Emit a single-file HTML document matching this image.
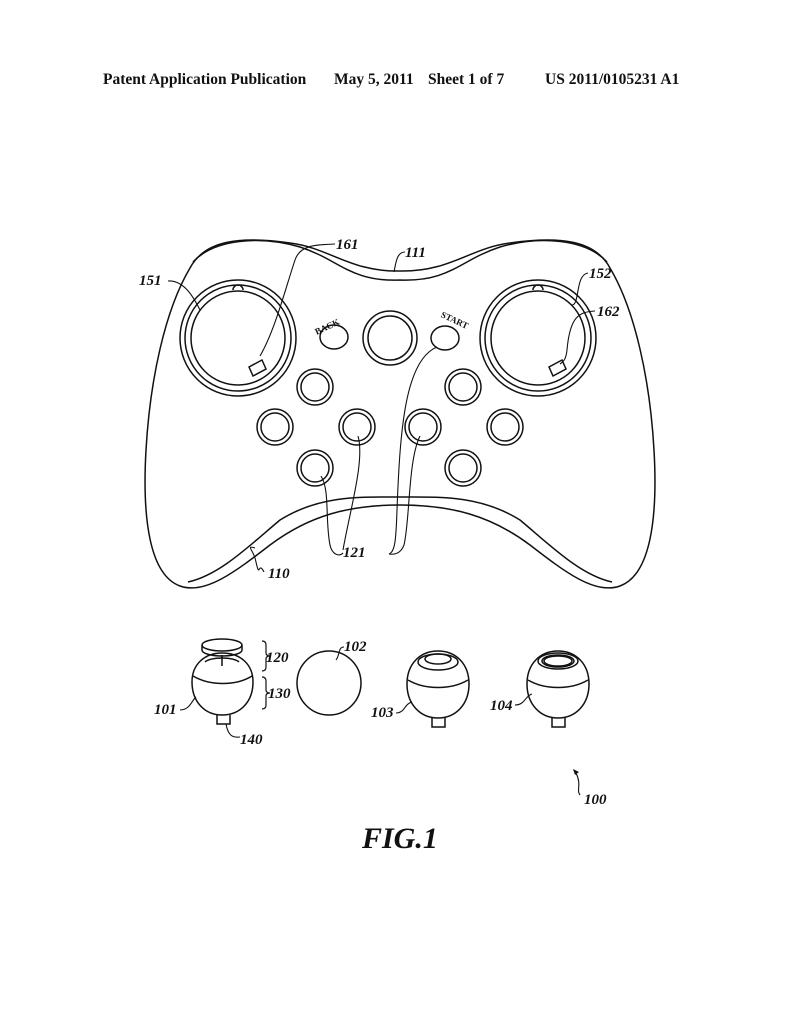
<!DOCTYPE html>
<html><head><meta charset="utf-8">
<style>
html,body{margin:0;padding:0;background:#fff;}
svg{display:block;}
text{font-family:"Liberation Serif",serif;font-weight:bold;fill:#111;}
.l{font-style:italic;font-size:15px;}
</style></head>
<body>
<svg width="794" height="1024" viewBox="0 0 794 1024" xmlns="http://www.w3.org/2000/svg">
<g>
<text x="103" y="84" font-size="15.5">Patent Application Publication</text>
<text x="334" y="84" font-size="15.5">May 5, 2011</text>
<text x="428" y="84" font-size="15.5">Sheet 1 of 7</text>
<text x="545" y="84" font-size="15.5">US 2011/0105231 A1</text>
</g>
<g fill="none" stroke="#111" stroke-width="1.5">
<path d="M400,271 C350,272 330,248 290,243 C240,236 205,240 190,268 C165,310 150,380 146,450 C142,520 150,575 180,586 C205,595 235,572 270,545 C310,515 350,505 400,505 C450,505 490,515 530,545 C565,572 595,595 620,586 C650,575 658,520 654,450 C650,380 635,310 610,268 C595,240 560,236 510,243 C470,248 450,272 400,271 Z"/>
<path d="M193,262 C215,238 262,236 300,247 C340,260 350,282 400,280 C450,282 460,260 500,247 C538,236 585,238 607,262"/>
<path d="M188,582 C220,575 250,545 280,520 C320,495 360,497 400,497 C440,497 480,495 520,520 C550,545 580,575 612,582"/>
<circle cx="238" cy="338" r="58"/><circle cx="238" cy="338" r="53"/><circle cx="238" cy="338" r="47"/>
<path d="M233,290 a5,5 0 0 1 10,0"/>
<path d="M249,367 l13,-7 l4,9 l-13,7 z"/>
<circle cx="538" cy="338" r="58"/><circle cx="538" cy="338" r="53"/><circle cx="538" cy="338" r="47"/>
<path d="M533,290 a5,5 0 0 1 10,0"/>
<path d="M549,367 l13,-7 l4,9 l-13,7 z"/>
<circle cx="390" cy="338" r="27"/><circle cx="390" cy="338" r="22"/>
<ellipse cx="334" cy="337" rx="14" ry="12"/>
<ellipse cx="445" cy="338" rx="14" ry="12"/>
<g>
<circle cx="315" cy="387" r="18"/><circle cx="315" cy="387" r="14"/>
<circle cx="463" cy="387" r="18"/><circle cx="463" cy="387" r="14"/>
<circle cx="275" cy="427" r="18"/><circle cx="275" cy="427" r="14"/>
<circle cx="357" cy="427" r="18"/><circle cx="357" cy="427" r="14"/>
<circle cx="423" cy="427" r="18"/><circle cx="423" cy="427" r="14"/>
<circle cx="505" cy="427" r="18"/><circle cx="505" cy="427" r="14"/>
<circle cx="315" cy="468" r="18"/><circle cx="315" cy="468" r="14"/>
<circle cx="463" cy="468" r="18"/><circle cx="463" cy="468" r="14"/>
</g>
<g stroke-width="1.1">
<path d="M260,356 C275,330 285,290 295,260 C300,245 315,245 335,244"/>
<path d="M168,281 C185,280 195,300 200,310"/>
<path d="M394,272 C396,262 397,252 405,252"/>
<path d="M588,273 C575,275 580,305 572,305"/>
<path d="M595,311 C580,312 570,315 567,350 C566,360 563,362 560,364"/>
<path d="M321,476 C330,490 325,520 330,545 C332,555 340,557 343,553"/>
<path d="M358,436 C365,460 350,510 343,550"/>
<path d="M437,347 C405,360 400,430 397,510 C396,540 395,552 389,554"/>
<path d="M420,436 C408,460 410,520 404,545 C401,553 395,555 389,554"/>
<path d="M264,572 C258,560 260,580 256,562 C254,550 245,545 255,548"/>
</g>
</g>
<text x="314" y="331" font-size="9" font-weight="normal" font-family="Liberation Sans,sans-serif" transform="rotate(-25 324 327)">BACK</text>
<text x="440" y="322" font-size="9" font-weight="normal" font-family="Liberation Sans,sans-serif" transform="rotate(25 452 320)">START</text>
<text class="l" x="336" y="249">161</text>
<text class="l" x="405" y="257">111</text>
<text class="l" x="139" y="285">151</text>
<text class="l" x="589" y="278">152</text>
<text class="l" x="597" y="316">162</text>
<text class="l" x="343" y="557">121</text>
<text class="l" x="268" y="578">110</text>

<g fill="none" stroke="#111" stroke-width="1.5">
<!-- 101 -->
<ellipse cx="222" cy="645" rx="20" ry="6"/>
<path d="M202,645 v5 a20,6 0 0 0 40,0 v-5"/>
<path d="M205,662 a18,6 0 0 1 34,0"/>
<line x1="222" y1="655" x2="222" y2="666"/>
<path d="M192,682 C192,664 205,653 222,653 C240,653 253,664 253,682 C253,702 240,715 222,715 C205,715 192,702 192,682 Z"/>
<path d="M193,676 C210,686 236,686 252,676"/>
<path d="M217,715 v9 h13 v-9"/>
<path d="M262,641 q4,0 4,4 v8 q0,3 4,3 q-4,0 -4,3 v8 q0,4 -4,4" stroke-width="1.2"/>
<path d="M262,677 q4,0 4,4 v9 q0,3 4,3 q-4,0 -4,3 v9 q0,4 -4,4" stroke-width="1.2"/>
<!-- 102 -->
<circle cx="329" cy="683" r="32"/>
<!-- 103 -->
<path d="M407,684 C407,664 420,651 438,651 C456,651 469,664 469,684 C469,704 456,718 438,718 C420,718 407,704 407,684 Z"/>
<path d="M408,680 C425,690 451,690 468,680"/>
<ellipse cx="438" cy="662" rx="20" ry="8"/>
<ellipse cx="438" cy="659" rx="13" ry="5"/>
<path d="M432,718 v9 h13 v-9"/>
<!-- 104 -->
<path d="M527,684 C527,664 540,651 558,651 C576,651 589,664 589,684 C589,704 576,718 558,718 C540,718 527,704 527,684 Z"/>
<path d="M528,680 C545,690 571,690 588,680"/>
<ellipse cx="558" cy="661" rx="20" ry="8"/>
<ellipse cx="558" cy="661" rx="16" ry="6"/>
<ellipse cx="558" cy="661" rx="14" ry="5"/>
<path d="M552,718 v9 h13 v-9"/>
<g stroke-width="1.1">
<path d="M180,710 C190,710 192,700 196,697"/>
<path d="M226,724 C228,735 232,738 240,737"/>
<path d="M344,647 C338,647 340,655 336,660"/>
<path d="M396,713 C405,713 404,704 412,702"/>
<path d="M515,705 C525,705 525,696 532,694"/>
<path d="M580,795 C576,790 582,785 576,773"/>
</g>
</g>
<path d="M573,769 l6,3 l-4,3 z" fill="#111"/>
<text class="l" x="266" y="662">120</text>
<text class="l" x="268" y="698">130</text>
<text class="l" x="154" y="714">101</text>
<text class="l" x="240" y="744">140</text>
<text class="l" x="344" y="651">102</text>
<text class="l" x="371" y="717">103</text>
<text class="l" x="490" y="710">104</text>
<text class="l" x="584" y="804">100</text>
<text x="362" y="848" font-size="30" font-style="italic">FIG.1</text>
</svg>
</body></html>
